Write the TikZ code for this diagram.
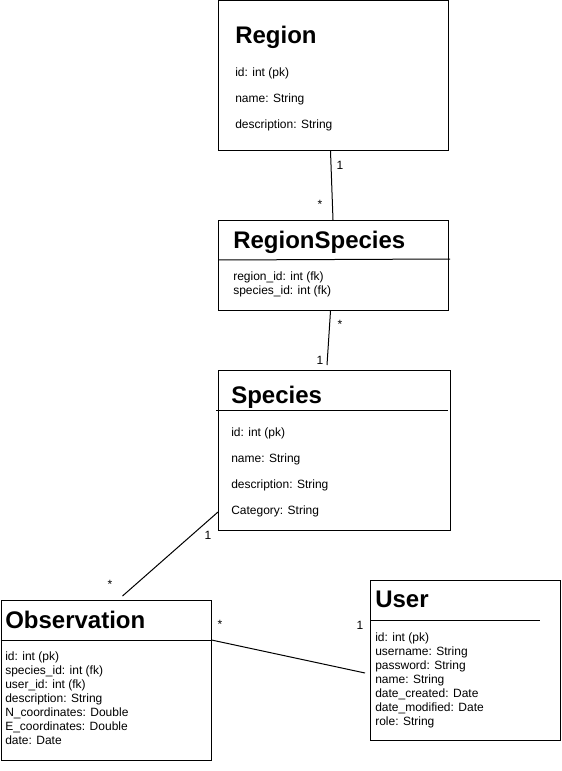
\documentclass[tikz,border=0pt]{standalone}
\usepackage{fontspec}
\setmainfont{Liberation Sans}
\usetikzlibrary{calc}
\begin{document}
\begin{tikzpicture}[x=0.75pt,y=-0.75pt,
  entity/.style={draw,line width=0.75pt,rectangle,inner sep=0pt,anchor=north west},
  sep/.style={line width=0.75pt},
  title/.style={inner sep=0pt,anchor=base west,font=\fontsize{18}{20}\selectfont\bfseries},
  field/.style={inner sep=0pt,anchor=base west,font=\fontsize{9}{11}\selectfont},
  mult/.style={inner sep=0pt,anchor=center,font=\fontsize{9}{11}\selectfont},
  conn/.style={line width=0.75pt}]
\useasboundingbox (0,0) rectangle (561,771);

% Region
\node[entity,minimum width=172.5pt,minimum height=112.5pt] (region) at (218,0) {};
\node[title] (regionT) at (235,43) {Region};
\node[field] (regionF1) at (235,76) {id: int (pk)};
\node[field] (regionF2) at (235,102) {name: String};
\node[field] (regionF3) at (235,128) {description: String};

% RegionSpecies
\node[entity,minimum width=172.5pt,minimum height=67.5pt] (rs) at (218,220) {};
\draw[sep] (rs.west |- 0,260) coordinate (rsL) -- (450,259) coordinate (rsR);
\node[title] (rsT) at (233,248) {RegionSpecies};
\node[field] (rsF1) at (233,280) {region\_id: int (fk)};
\node[field] (rsF2) at (233,294) {species\_id: int (fk)};

% Species
\node[entity,minimum width=174pt,minimum height=120pt] (species) at (218,370) {};
\draw[sep] (216,410) coordinate (spL) -- (448,410) coordinate (spR);
\node[title] (spT) at (231,403) {Species};
\node[field] (spF1) at (231,436) {id: int (pk)};
\node[field] (spF2) at (231,462) {name: String};
\node[field] (spF3) at (231,488) {description: String};
\node[field] (spF4) at (231,514) {Category: String};

% Observation
\node[entity,minimum width=157.5pt,minimum height=120pt] (obs) at (0.5,600) {};
\draw[sep] (obs.west |- 0,640) coordinate (obL) -- (obs.east |- 0,640) coordinate (obR);
\node[title] (obT) at (5,628) {Observation};
\node[field] (obF1) at (5,660) {id: int (pk)};
\node[field] (obF2) at (5,674) {species\_id: int (fk)};
\node[field] (obF3) at (5,688) {user\_id: int (fk)};
\node[field] (obF4) at (5,702) {description: String};
\node[field] (obF5) at (5,716) {N\_coordinates: Double};
\node[field] (obF6) at (5,730) {E\_coordinates: Double};
\node[field] (obF7) at (5,744) {date: Date};

% User
\node[entity,minimum width=142.5pt,minimum height=120pt] (user) at (370,580) {};
\draw[sep] (user.west |- 0,620) coordinate (usL) -- (540,620) coordinate (usR);
\node[title] (usT) at (375,607) {User};
\node[field] (usF1) at (375,641) {id: int (pk)};
\node[field] (usF2) at (375,655) {username: String};
\node[field] (usF3) at (375,669) {password: String};
\node[field] (usF4) at (375,683) {name: String};
\node[field] (usF5) at (375,697) {date\_created: Date};
\node[field] (usF6) at (375,711) {date\_modified: Date};
\node[field] (usF7) at (375,725) {role: String};

% Connectors
\draw[conn] ($(region.south west)+(112.5,0)$) -- ($(rs.north west)+(115,0)$);
\node[mult] (m1) at (340,165.5) {1};
\node[mult] (m2) at (320,204) {*};

\draw[conn] ($(rs.south west)+(112.5,0)$) -- ($(species.north west)+(109,-5)$);
\node[mult] (m3) at (340,324) {*};
\node[mult] (m4) at (320,360.5) {1};

\draw[conn] ($(species.south west)+(0,-19)$) -- ($(obs.north west)+(122,-4)$);
\node[mult] (m5) at (208,535.5) {1};
\node[mult] (m6) at (110,584) {*};

\draw[conn] (obR) -- ($(user.north west)+(-5,93)$);
\node[mult] (m7) at (220,624) {*};
\node[mult] (m8) at (360,625.5) {1};
\end{tikzpicture}
\end{document}
